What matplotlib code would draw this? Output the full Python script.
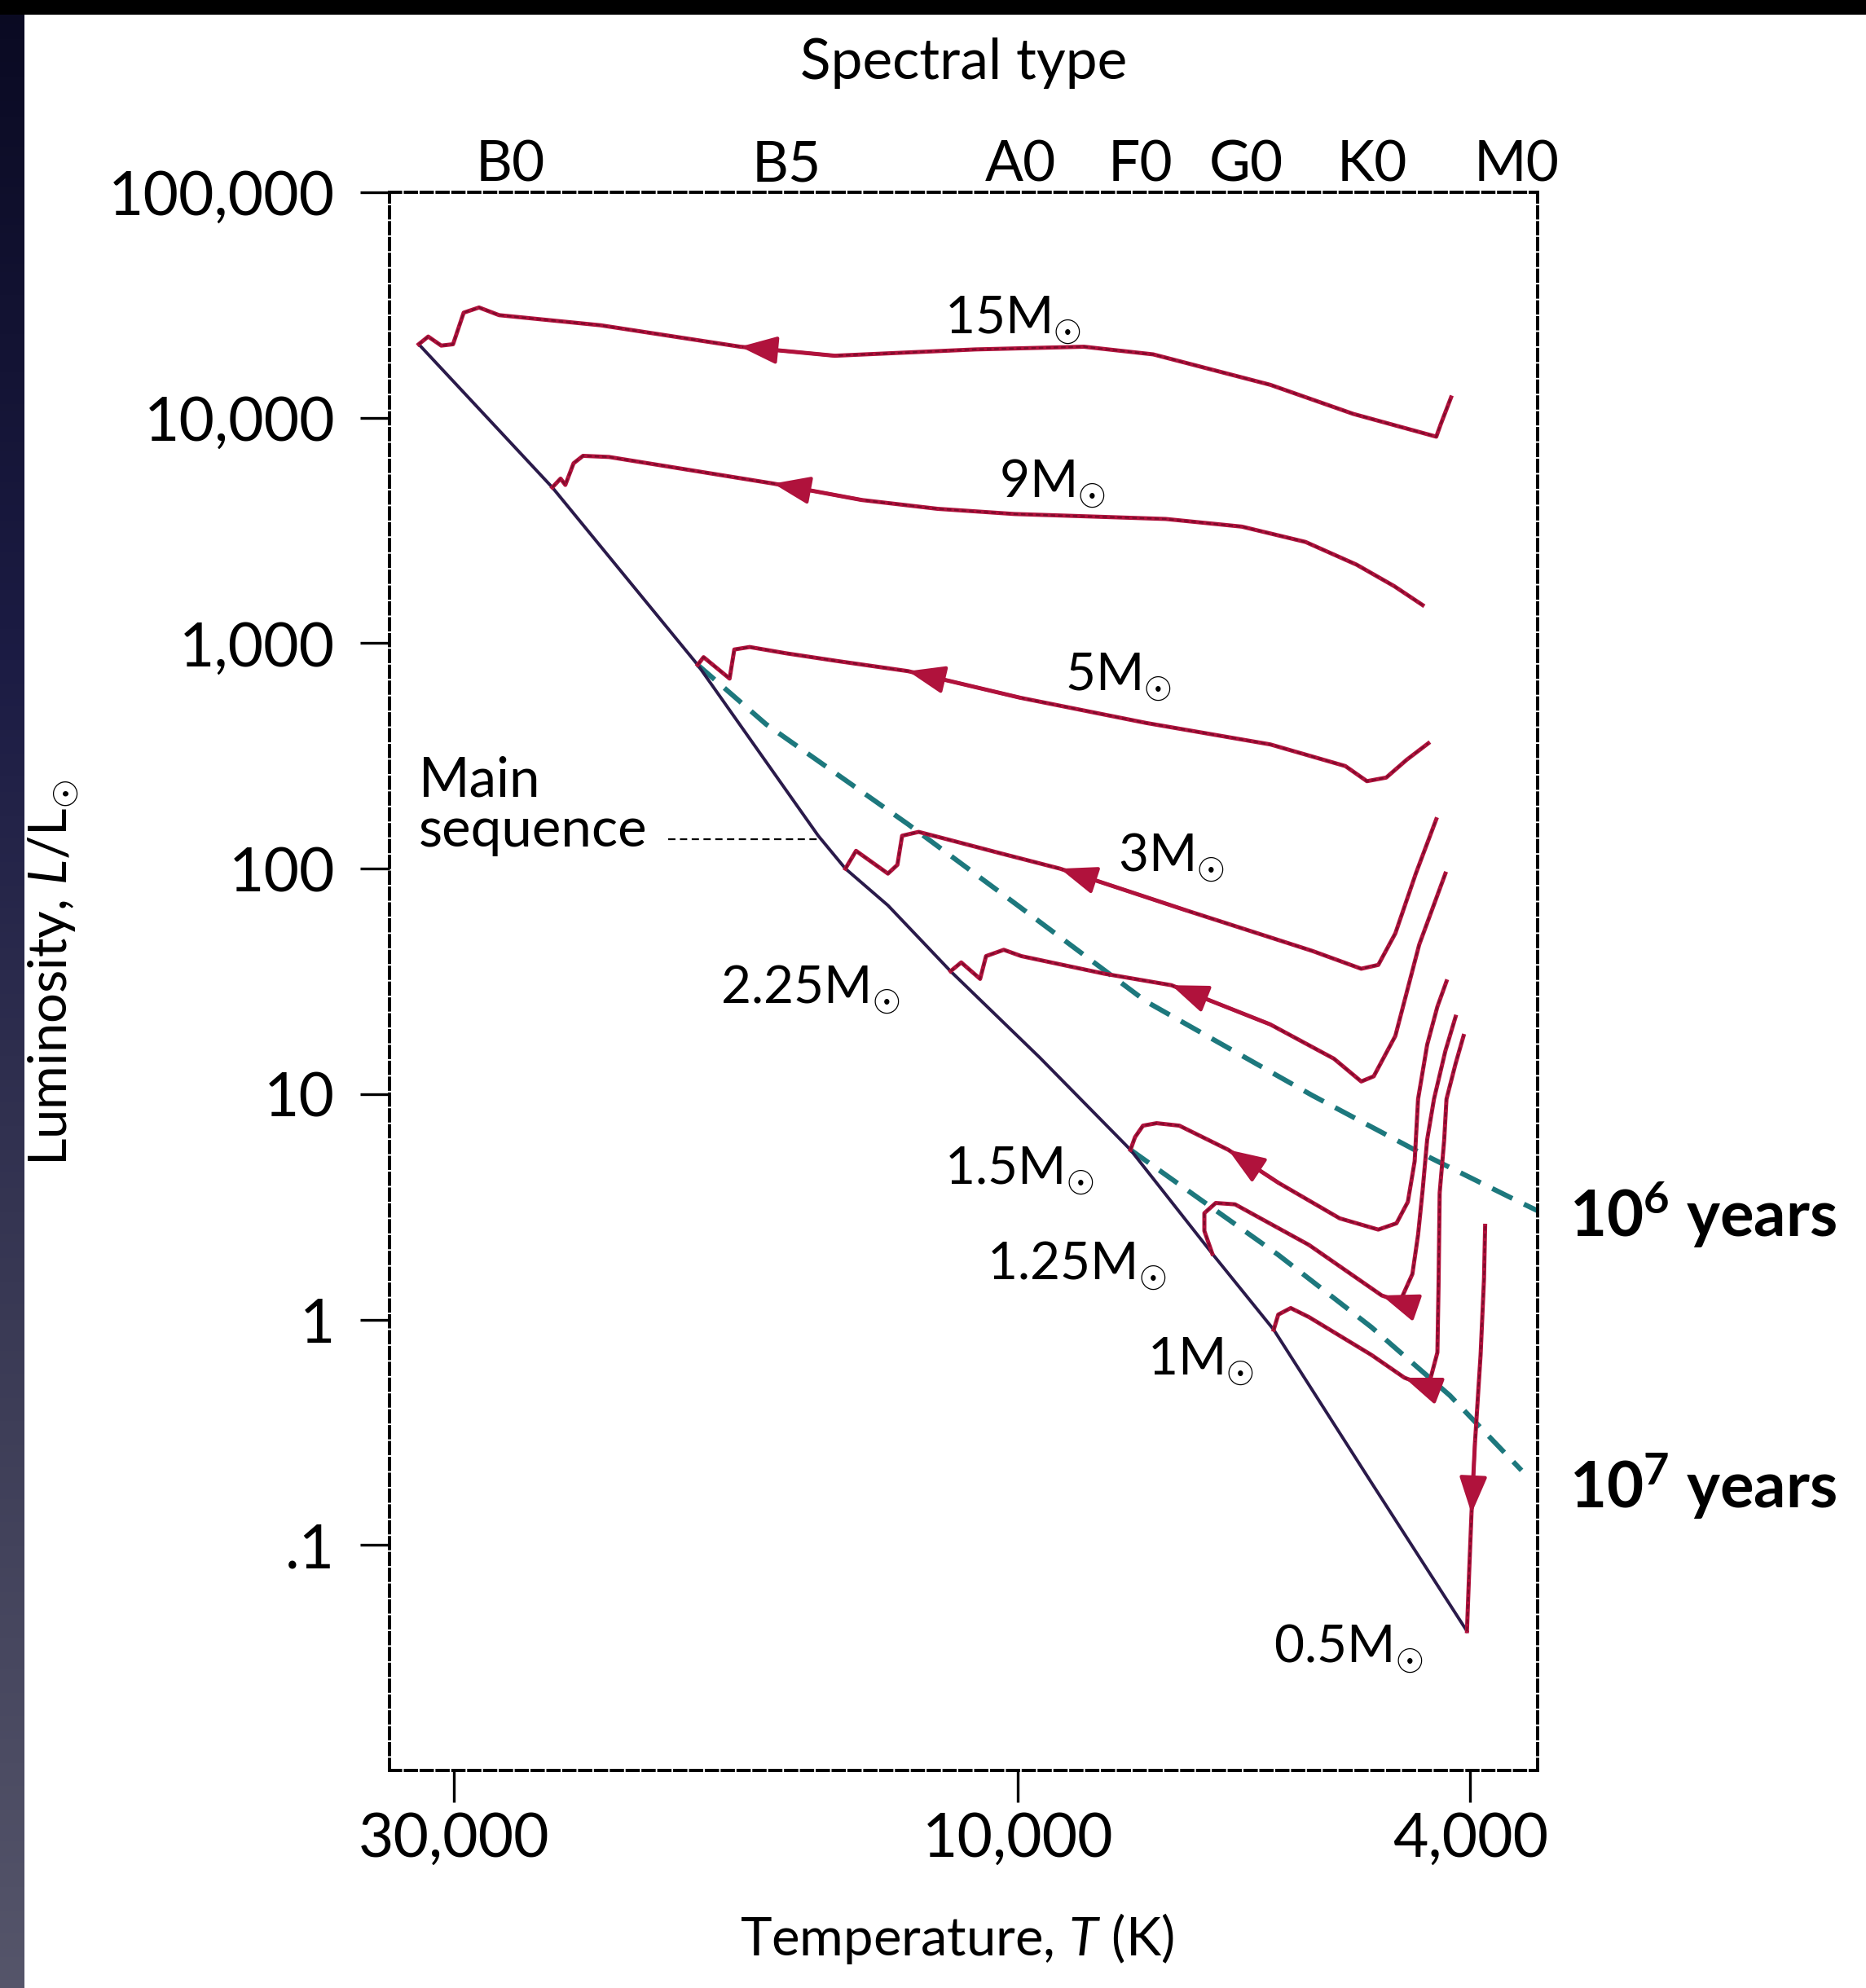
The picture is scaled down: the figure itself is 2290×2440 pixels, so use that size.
import numpy as np
import matplotlib
matplotlib.use("Agg")
import matplotlib.pyplot as plt
from matplotlib.colors import LinearSegmentedColormap
from matplotlib.patches import Rectangle
from matplotlib.ticker import FixedLocator, FixedFormatter, NullLocator

plt.rcParams['font.family'] = ['Lato', 'DejaVu Sans']
plt.rcParams['mathtext.fontset'] = 'custom'
plt.rcParams['mathtext.rm'] = 'Lato'
plt.rcParams['mathtext.it'] = 'Lato:italic'
plt.rcParams['mathtext.bf'] = 'Lato:bold'

# ---------------- data (log10 T [K], log10 L [Lsun]) ----------------
zams_logT = [4.507, 4.394, 4.271, 4.169, 4.146, 4.110, 4.057, 3.981, 3.901, 3.829, 3.775, 3.691, 3.605]
zams_logL = [4.326, 3.691, 2.904, 2.146, 2.000, 1.837, 1.545, 1.163, 0.753, 0.292, -0.045, -0.708, -1.382]

m15_logT = [4.507, 4.499, 4.488, 4.478, 4.469, 4.456, 4.439, 4.353, 4.235, 4.155, 4.036, 3.942, 3.881, 3.778, 3.705, 3.632, 3.628, 3.619]
m15_logL = [4.326, 4.360, 4.320, 4.326, 4.466, 4.489, 4.455, 4.410, 4.315, 4.275, 4.303, 4.315, 4.281, 4.146, 4.017, 3.916, 3.972, 4.090]

m9_logT = [4.394, 4.387, 4.383, 4.376, 4.368, 4.346, 4.293, 4.207, 4.132, 4.068, 4.003, 3.936, 3.870, 3.803, 3.747, 3.702, 3.669, 3.644]
m9_logL = [3.691, 3.730, 3.702, 3.798, 3.831, 3.826, 3.781, 3.708, 3.635, 3.596, 3.573, 3.562, 3.551, 3.517, 3.449, 3.348, 3.253, 3.169]

m5_logT = [4.271, 4.266, 4.244, 4.240, 4.227, 4.196, 4.153, 4.093, 3.998, 3.887, 3.778, 3.712, 3.693, 3.676, 3.658, 3.639]
m5_logL = [2.904, 2.938, 2.843, 2.972, 2.983, 2.955, 2.921, 2.876, 2.758, 2.646, 2.551, 2.455, 2.388, 2.404, 2.483, 2.556]

m3_logT = [4.146, 4.137, 4.110, 4.102, 4.098, 4.084, 4.059, 4.014, 3.963, 3.852, 3.741, 3.698, 3.683, 3.668, 3.650, 3.632]
m3_logL = [2.000, 2.079, 1.978, 2.017, 2.146, 2.163, 2.129, 2.067, 2.000, 1.815, 1.635, 1.556, 1.573, 1.713, 1.978, 2.219]

m225_logT = [4.057, 4.048, 4.032, 4.027, 4.012, 3.997, 3.924, 3.865, 3.778, 3.722, 3.698, 3.687, 3.668, 3.647, 3.624]
m225_logL = [1.545, 1.584, 1.511, 1.612, 1.640, 1.612, 1.534, 1.483, 1.309, 1.157, 1.056, 1.079, 1.258, 1.663, 1.978]

m15s_logT = [3.901, 3.897, 3.890, 3.878, 3.858, 3.815, 3.771, 3.717, 3.683, 3.667, 3.657, 3.651, 3.648, 3.640, 3.631, 3.623]
m15s_logL = [0.753, 0.809, 0.860, 0.871, 0.860, 0.753, 0.607, 0.449, 0.399, 0.427, 0.522, 0.702, 0.978, 1.219, 1.388, 1.500]

m125_logT = [3.829, 3.836, 3.836, 3.826, 3.809, 3.744, 3.680, 3.664, 3.653, 3.648, 3.644, 3.640, 3.634, 3.624, 3.615]
m125_logL = [0.292, 0.393, 0.472, 0.517, 0.511, 0.331, 0.107, 0.079, 0.202, 0.376, 0.573, 0.798, 0.978, 1.191, 1.343]

m1_logT = [3.775, 3.771, 3.760, 3.744, 3.689, 3.660, 3.639, 3.631, 3.630, 3.629, 3.625, 3.623, 3.615, 3.608]
m1_logL = [-0.045, 0.022, 0.051, 0.011, -0.157, -0.258, -0.298, -0.146, 0.146, 0.562, 0.798, 0.978, 1.135, 1.258]

m05_logT = [3.605, 3.603, 3.601, 3.598, 3.593, 3.590, 3.589]
m05_logL = [-1.382, -1.112, -0.860, -0.551, -0.157, 0.180, 0.416]

track_names = ['15', '9', '5', '3', '2.25', '1.5', '1.25', '1', '0.5']
arrow_index = [8, 7, 7, 8, 7, 5, 6, 5, 2]

iso6_logT = [4.271, 4.213, 4.093, 4.003, 3.887, 3.741, 3.647, 3.559, 3.543]
iso6_logL = [2.904, 2.640, 2.197, 1.848, 1.410, 0.994, 0.742, 0.522, 0.483]
iso7_logT = [3.901, 3.771, 3.689, 3.620, 3.557]
iso7_logL = [0.753, 0.287, -0.034, -0.337, -0.669]

ms_leader_logT = [4.296, 4.166]
ms_leader_logL = 2.129

temp_ticks = [30000, 10000, 4000]
temp_labels = ['30,000', '10,000', '4,000']
lum_ticks = [0.1, 1, 10, 100, 1000, 10000, 100000]
lum_labels = ['.1', '1', '10', '100', '1,000', '10,000', '100,000']
spectral_types = ['B0', 'B5', 'A0', 'F0', 'G0', 'K0', 'M0']
spectral_T = [26900, 15700, 9950, 7800, 6300, 4880, 3640]

# temperature axis of the original figure (piecewise logarithmic)
scale_logT = [3.0, np.log10(4000), 4.0, np.log10(30000), 5.0]
scale_pos = [-1700.0, -1160.0, -803.0, -358.0, 130.0]


def t_forward(T):
    T = np.asarray(T, dtype=float)
    return np.interp(np.log10(np.maximum(T, 1.0)), scale_logT, scale_pos)


def t_inverse(u):
    u = np.asarray(u, dtype=float)
    return 10 ** np.interp(u, scale_pos, scale_logT)


# ---------------- figure ----------------
W, H = 2290, 2440
fig = plt.figure(figsize=(W / 100, H / 100), dpi=100)
fig.patch.set_facecolor('white')

# slide frame: dark left strip and black top strip
band = fig.add_axes([0, 0, 30 / W, 1])
grad = np.linspace(1, 0, 256).reshape(-1, 1)
cmap = LinearSegmentedColormap.from_list('frame', ['#55556a', '#3a3a55', '#1c1c44', '#0a0a22'])
band.imshow(grad, aspect='auto', cmap=cmap, extent=[0, 1, 0, 1])
band.set_axis_off()
fig.add_artist(Rectangle((0, 1 - 18 / H), 1, 18 / H, transform=fig.transFigure,
                         facecolor='black', edgecolor='none', zorder=10))

ax = fig.add_axes([478 / W, 1 - 2173 / H, (1887 - 478) / W, (2173 - 236) / H])
ax.set_xscale('function', functions=(t_forward, t_inverse))
ax.set_yscale('log')
ax.set_xlim(34020, 3490)
ax.set_ylim(0.01, 1e5)

track_color = '#b0123c'
dark_color = '#6a0a26'
zams_color = '#2a1a4a'
iso_color = '#1d787d'

# isochrones
for lt, ll in [(iso6_logT, iso6_logL), (iso7_logT, iso7_logL)]:
    ax.plot(10 ** np.array(lt), 10 ** np.array(ll), color=iso_color, lw=4.4,
            dashes=(4.5, 2.6), solid_capstyle='butt', zorder=2)

# main sequence
ax.plot(10 ** np.array(zams_logT), 10 ** np.array(zams_logL), color=zams_color, lw=2.8, zorder=3)

# tracks
tracks = [(m15_logT, m15_logL), (m9_logT, m9_logL), (m5_logT, m5_logL), (m3_logT, m3_logL),
          (m225_logT, m225_logL), (m15s_logT, m15s_logL), (m125_logT, m125_logL),
          (m1_logT, m1_logL), (m05_logT, m05_logL)]
for (lt, ll), k in zip(tracks, arrow_index):
    T = 10 ** np.array(lt)
    L = 10 ** np.array(ll)
    ax.plot(T, L, color=track_color, lw=3.6, zorder=4, solid_joinstyle='round')
    ax.plot(T, L, color=dark_color, lw=1.6, dashes=(2.5, 1.6), alpha=0.75, zorder=5)
    ax.annotate('', xy=(T[k], L[k]), xytext=(T[k + 1], L[k + 1]),
                arrowprops=dict(arrowstyle='-|>,head_length=0.45,head_width=0.17',
                                color=track_color, lw=3.0, shrinkA=0, shrinkB=0,
                                mutation_scale=62), zorder=6)

# main-sequence leader
ax.plot(10 ** np.array(ms_leader_logT), [10 ** ms_leader_logL] * 2, color='black',
        lw=1.6, dashes=(4, 2.5), zorder=3)
ax.text(0.0254, 0.611, 'Main\nsequence', transform=ax.transAxes, ha='left', va='center',
        fontsize=48.5, linespacing=1.0)

# mass labels
label_pos = [(0.4834, 0.9100), (0.5309, 0.8064), (0.5883, 0.6843), (0.6347, 0.5695),
             (0.2881, 0.4859), (0.4834, 0.3711), (0.5199, 0.3108), (0.6600, 0.2506),
             (0.7704, 0.0683)]
for name, (fx, fy) in zip(track_names, label_pos):
    ax.text(fx, fy, name + r'M$_{\odot}$', transform=ax.transAxes, ha='left',
            va='baseline', fontsize=46)

# isochrone labels
ax.text(1.0276, 0.3382, r'$\mathbf{10^{6}}$ years', transform=ax.transAxes, ha='left',
        va='baseline', fontsize=56, fontweight='bold')
ax.text(1.0276, 0.1663, r'$\mathbf{10^{7}}$ years', transform=ax.transAxes, ha='left',
        va='baseline', fontsize=56, fontweight='bold')

# spectral types along the top
for name, T in zip(spectral_types, spectral_T):
    ax.text(T, 1.0072, name, transform=ax.get_xaxis_transform(), ha='center',
            va='baseline', fontsize=50)

# axes, ticks
ax.xaxis.set_major_locator(FixedLocator(temp_ticks))
ax.xaxis.set_major_formatter(FixedFormatter(temp_labels))
ax.xaxis.set_minor_locator(NullLocator())
ax.yaxis.set_major_locator(FixedLocator(lum_ticks))
ax.yaxis.set_major_formatter(FixedFormatter(lum_labels))
ax.yaxis.set_minor_locator(NullLocator())
ax.tick_params(axis='y', direction='out', length=26, width=2.4, pad=22, labelsize=54)
ax.tick_params(axis='x', direction='out', length=28, width=2.4, pad=8, labelsize=54)
for s in ax.spines.values():
    s.set_linestyle((0, (3.5, 1.5)))
    s.set_linewidth(2.8)

fig.text(0.5166, 0.9602, 'Spectral type', ha='center', va='baseline', fontsize=50)
fig.text(0.513, 0.0164, 'Temperature, $T$ (K)', ha='center', va='baseline', fontsize=47)
fig.text(0.0288, 0.5107, r'Luminosity, $L$/L$_{\odot}$', rotation=90, ha='center',
         va='center', fontsize=47)

fig.savefig('out.png', dpi=100)
